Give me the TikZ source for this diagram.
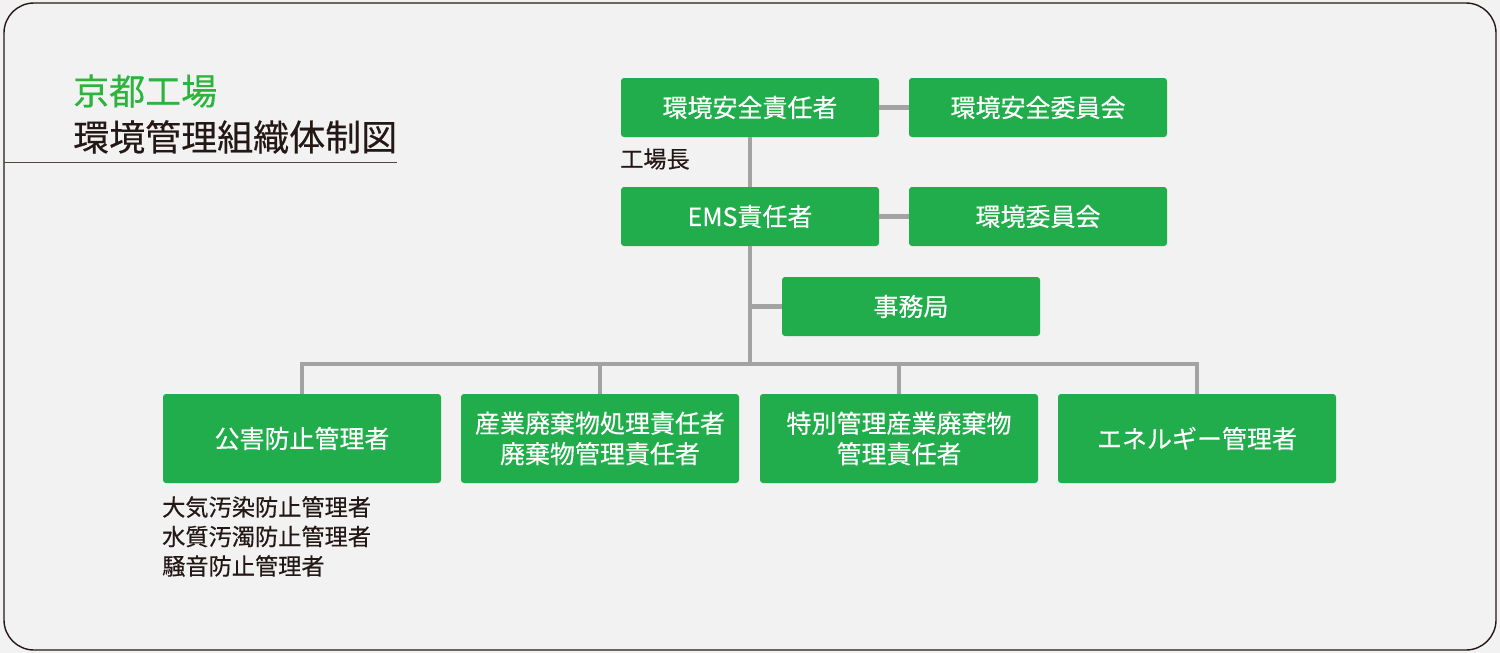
\documentclass[tikz,border=0pt]{standalone}
\usepackage{fontspec}
\setmainfont{Noto Sans CJK JP}
\newfontfamily\jpfont{Noto Sans CJK JP}
\newfontfamily\jpmed[FakeBold=0.35]{Noto Sans CJK JP}
\definecolor{bg}{HTML}{F2F2F2}
\definecolor{boxgreen}{HTML}{21AD4B}
\definecolor{titlegreen}{HTML}{2DB43F}
\definecolor{ink}{HTML}{231815}
\definecolor{conn}{HTML}{A3A3A3}
\tikzset{
  gbox/.style={fill=boxgreen, rounded corners=3pt, text=white, inner sep=0pt,
    align=center, font=\jpmed\fontsize{25}{30.5}\selectfont},
  topbox/.style={gbox, minimum width=258pt, minimum height=59pt},
  botbox/.style={gbox, minimum width=278pt, minimum height=89pt},
  connline/.style={draw=conn, line width=4.5pt},
  plain/.style={text=ink, inner sep=0pt, align=left, font=\jpmed\fontsize{23.2}{29.5}\selectfont},
  titlefont/.style={inner sep=0pt, font=\jpmed\fontsize{36}{40}\selectfont},
}
\begin{document}
\begin{tikzpicture}[x=1pt,y=-1pt]
\useasboundingbox (0,0) rectangle (1500,653);
\fill[bg] (0,0) rectangle (1500,653);
\draw[ink, line width=1.4pt, rounded corners=30pt] (4,3) rectangle (1496,650);
% title
\node[titlefont, anchor=west, text=titlegreen] (t1) at (73,91) {京都工場};
\node[titlefont, anchor=west, text=ink] (t2) at (73,137) {環境管理組織体制図};
\coordinate (ulA) at (4,162);
\coordinate (ulB) at (397,162);
\draw[ink!80, line width=1pt] (ulA) -- (ulB);
% boxes
\node[topbox] (esr) at (750,107.5) {環境安全責任者};
\node[topbox] (esc) at (1038,107.5) {環境安全委員会};
\node[topbox] (ems) at (750,216.5) {EMS責任者};
\node[topbox] (ec) at (1038,216.5) {環境委員会};
\node[topbox] (sec) at (911,306.5) {事務局};
\node[botbox] (b1) at (302,438.5) {公害防止管理者};
\node[botbox] (b2) at (600,438.5) {産業廃棄物処理責任者\\廃棄物管理責任者};
\node[botbox] (b3) at (899,438.5) {特別管理産業廃棄物\\管理責任者};
\node[botbox] (b4) at (1197,438.5) {エネルギー管理者};
% labels
\node[plain, anchor=west] (lab1) at (620,159) {工場長};
\node[plain, anchor=north west] (lab2) at (162,496) {大気汚染防止管理者\\水質汚濁防止管理者\\騒音防止管理者};
% connectors
\coordinate (bus) at (750,364);
\draw[connline] (esr.east) -- (esc.west);
\draw[connline] (ems.east) -- (ec.west);
\draw[connline] (esr.south) -- (ems.north);
\draw[connline] (ems.south) -- (bus);
\draw[connline] (sec.west) -- (sec.west -| ems.south);
\draw[connline] (b1.north) -- (b1.north |- bus) -- (b4.north |- bus) -- (b4.north);
\draw[connline] (b2.north) -- (b2.north |- bus);
\draw[connline] (b3.north) -- (b3.north |- bus);
\end{tikzpicture}
\end{document}
